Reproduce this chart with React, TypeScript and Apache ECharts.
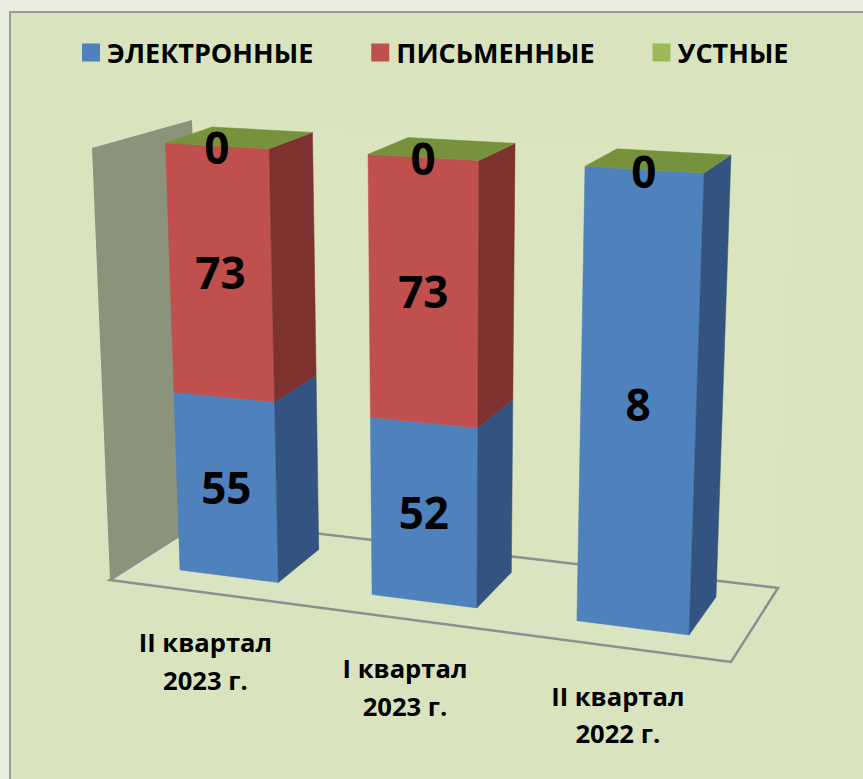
import React, { useEffect, useRef } from "react";
import * as echarts from "echarts";

const categories = ["II квартал\n2023 г.", "I квартал\n2023 г.", "II квартал\n2022 г."];
const seriesNames = ["ЭЛЕКТРОННЫЕ", "ПИСЬМЕННЫЕ", "УСТНЫЕ"];
const electronic = [55, 52, 8];
const written: (number | null)[] = [73, 73, null];
const oral = [0, 0, 0];

const FONT = "'Open Sans'";
const frontFill = ["#4f81bd", "#c0504d", "#9bbb59"];
const sideFill = ["#335480", "#7d3230", "#5f7530"];
const topFill = "#77923c";
const BAR = 0.52;

type P = [number, number];
function homography(q: P[]) {
  const [[x0, y0], [x1, y1], [x2, y2], [x3, y3]] = q;
  const sx = x0 - x1 + x2 - x3, sy = y0 - y1 + y2 - y3;
  const dx1 = x1 - x2, dx2 = x3 - x2, dy1 = y1 - y2, dy2 = y3 - y2;
  const det = dx1 * dy2 - dx2 * dy1;
  const g = (sx * dy2 - dx2 * sy) / det, h = (dx1 * sy - sx * dy1) / det;
  const a = x1 - x0 + g * x1, b = x3 - x0 + h * x3, d = y1 - y0 + g * y1, e = y3 - y0 + h * y3;
  return (u: number, v: number): P => {
    const w = g * u + h * v + 1;
    return [(a * u + b * v + x0) / w, (d * u + e * v + y0) / w];
  };
}
// perspective planes: front and back faces of the bar row (BL, BR, TR, TL)
const frontPlane = homography([[180, 570], [689, 635], [704, 173], [165.5, 143]]);
const backPlane = homography([[223, 538], [716, 597], [731, 155], [212, 127]]);

const totals = categories.map((_, i) => electronic[i] + (written[i] ?? 0) + oral[i]);
const rawSeries = [electronic, written, oral];
function stackData(s: number) {
  return categories.map((_, i) => {
    const raw = rawSeries[s][i];
    let base = 0;
    for (let k = 0; k < s; k++) base += rawSeries[k][i] ?? 0;
    const start = (base / totals[i]) * 100;
    const end = ((base + (raw ?? 0)) / totals[i]) * 100;
    return [i, start, end, raw === null ? -1 : raw];
  });
}

function renderer(s: number) {
  return (params: any, api: any) => {
    const cs = params.coordSys;
    const idx = api.value(0);
    const raw = api.value(3);
    const band = api.size([1, 0])[0];
    const [cx, y0] = api.coord([idx, api.value(1)]);
    const [, y1] = api.coord([idx, api.value(2)]);
    const toU = (px: number) => (px - cs.x - ((1 - BAR) / 2) * band) / (cs.width - (1 - BAR) * band);
    const toV = (py: number) => (cs.y + cs.height - py) / cs.height;
    const uL = toU(cx - (BAR / 2) * band), uR = toU(cx + (BAR / 2) * band);
    const uM = toU(cx);
    const v0 = toV(y0), v1 = toV(y1);
    const children: any[] = [];
    const poly = (pts: P[], fill: string) =>
      children.push({ type: "polygon", shape: { points: pts }, style: { fill, stroke: fill, lineWidth: 0.5 } });
    if (raw > 0) {
      poly([frontPlane(uL, v0), frontPlane(uR, v0), frontPlane(uR, v1), frontPlane(uL, v1)], frontFill[s]);
      poly([frontPlane(uR, v0), backPlane(uR, v0), backPlane(uR, v1), frontPlane(uR, v1)], sideFill[s]);
    }
    if (s === seriesNames.length - 1) {
      poly([frontPlane(uL, v1), frontPlane(uR, v1), backPlane(uR, v1), backPlane(uL, v1)], topFill);
      const [bx, by] = frontPlane(uM, 0);
      children.push({
        type: "text",
        z2: 20,
        style: {
          text: categories[idx], x: bx - 24.5 + 11 * uM, y: by + 85 + 2.5 * uM, align: "center", verticalAlign: "middle",
          fontFamily: FONT, fontWeight: 700, fontSize: 25.6, lineHeight: 37.5, fill: "#000",
        },
      });
    }
    if (raw >= 0) {
      const [lx, ly] = frontPlane(uM, (v0 + v1) / 2);
      children.push({
        type: "text",
        z2: 30,
        style: {
          text: String(raw), x: lx, y: raw > 0 ? ly - 1 : ly + 1, align: "center", verticalAlign: "middle",
          fontFamily: FONT, fontWeight: 700, fontSize: 44, fill: "#000",
        },
      });
    }
    return { type: "group", children };
  };
}

export default function App() {
  const ref = useRef<HTMLDivElement>(null);
  useEffect(() => {
    const chart = echarts.init(ref.current!, undefined, { renderer: "svg" });
    chart.setOption({
      animation: false,
      backgroundColor: "#ebefdf",
      color: frontFill,
      grid: { left: 100, right: 100, top: 100, bottom: 100 },
      xAxis: { type: "category", data: categories, show: false },
      yAxis: { type: "value", min: 0, max: 100, show: false },
      legend: {
        left: 77, top: 34, selectedMode: false, icon: "rect", itemWidth: 18, itemHeight: 18, itemGap: 58,
        data: seriesNames,
        textStyle: { fontFamily: FONT, fontWeight: 700, fontSize: 27, color: "#000", padding: [0, 0, 0, 2] },
      },
      graphic: [
        { type: "rect", z: -10, shape: { x: 10, y: 12, width: 880, height: 800 }, style: { fill: "#d9e4bf", stroke: "#9b9b9b", lineWidth: 2 } },
        { type: "polygon", z: -9, shape: { points: [[192, 120], [797, 152], [778, 588], [204, 520]] }, style: { fill: "#dae5bf" } },
        { type: "polygon", z: -8, shape: { points: [[110, 580], [731, 662], [778, 588], [204, 520]] }, style: { fill: "#d9e4c0", stroke: "#8e8e8e", lineWidth: 2.5 } },
        { type: "polygon", z: -7, shape: { points: [[92, 148], [192, 120], [204, 520], [110, 580]] }, style: { fill: "#8b937b" } },
      ],
      series: seriesNames.map((name, s) => ({
        type: "custom",
        name,
        clip: false,
        itemStyle: { color: frontFill[s] },
        data: stackData(s),
        encode: { x: 0, y: 2 },
        renderItem: renderer(s),
      })),
    });
    return () => chart.dispose();
  }, []);
  return <div ref={ref} style={{ position: "absolute", left: 0, top: 0, width: 863, height: 779 }} />;
}
